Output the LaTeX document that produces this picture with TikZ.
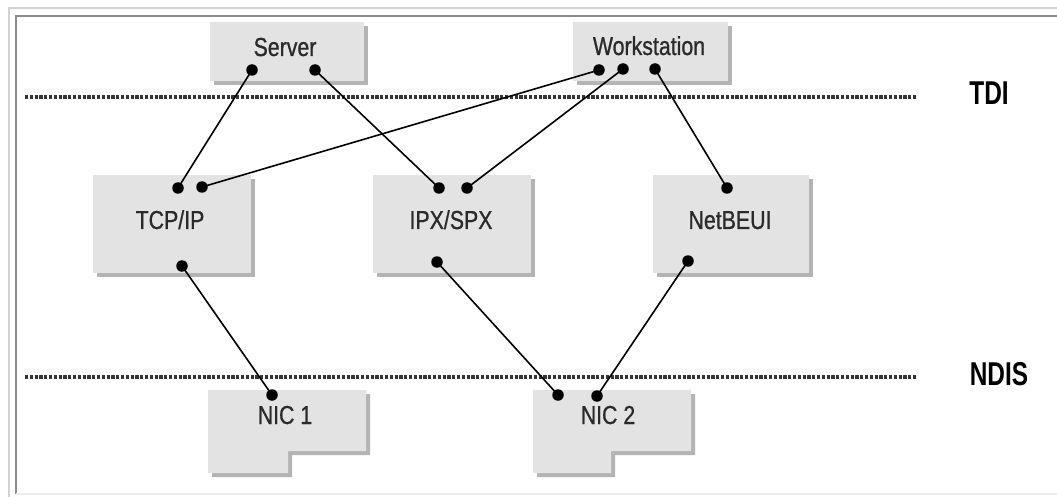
\documentclass[tikz,border=0pt]{standalone}
\usepackage{fontspec}
\setmainfont{Liberation Sans}[FakeStretch=0.82,FakeBold=0.8]
\newfontfamily\layerfont{Liberation Sans}[FakeStretch=0.74]
\definecolor{boxface}{HTML}{E3E3E3}
\definecolor{boxshade}{HTML}{B4B4B4}
\definecolor{textgray}{HTML}{2A2A2A}
\definecolor{rulegray}{HTML}{333333}
\definecolor{frameout}{HTML}{D2D2D2}
\definecolor{framein}{HTML}{8C8C88}
\begin{document}
\begin{tikzpicture}[x=1pt,y=-1pt,
  dot/.style={circle,fill=black,inner sep=0pt,minimum size=11.5pt},
  wire/.style={black,line width=1.6pt},
  layerline/.style={rulegray,line width=3.4pt,dash pattern=on 3.2pt off 1.6pt},
  boxtext/.style={anchor=base,text=textgray,font=\fontsize{26}{30}\selectfont},
  layertext/.style={anchor=base,text=black,font=\layerfont\bfseries\fontsize{33}{36}\selectfont},
  face/.style={fill=boxface,draw=none},
  shade/.style={fill=boxshade,draw=none}]
\useasboundingbox (0,0) rectangle (1057,497);
\fill[white] (0,0) rectangle (1057,497);

% page frame
\draw[frameout,line width=2pt] (8.5,497) -- (8.5,8.5) -- (1057,8.5);
\draw[framein,line width=2pt] (15.5,494) -- (15.5,16) -- (1057,16);
\draw[black!7,line width=2pt] (16,494) -- (1057,494);

% rectangular boxes: shadow then face
\foreach \xa/\ya/\xb/\yb in {210/22/364/81, 573/22/728/81,
    93/175/251/273, 373/175/531/273, 653/175/809/273} {
  \fill[shade] (\xa+4,\ya+4) rectangle (\xb+4,\yb+4);
  \fill[face] (\xa,\ya) rectangle (\xb,\yb);
}

% network adapter tabs
\foreach \xa/\xm/\xb in {208/288/366, 533/611/691} {
  \fill[shade] (\xa+4,394) -- (\xb+4,394) -- (\xb+4,455) -- (\xm+4,455)
               -- (\xm+4,477) -- (\xa+4,477) -- cycle;
  \fill[face] (\xa,390) -- (\xb,390) -- (\xb,451) -- (\xm,451)
              -- (\xm,473) -- (\xa,473) -- cycle;
}

% labels
\node[boxtext] (server) at (285,56) {Server};
\node[boxtext] (workstation) at (649,55) {Workstation};
\node[boxtext] (tcpip) at (170,229) {TCP/IP};
\node[boxtext] (ipxspx) at (451,229) {IPX/SPX};
\node[boxtext] (netbeui) at (730,229) {NetBEUI};
\node[boxtext] (nic1) at (285,424) {NIC 1};
\node[boxtext] (nic2) at (608,424) {NIC 2};
\node[layertext] (tdi) at (989,105) {TDI};
\node[layertext] (ndis) at (999,385) {NDIS};

% layer boundaries
\coordinate (tdiL) at (25,97);
\coordinate (tdiR) at (917,97);
\coordinate (ndisL) at (25,377);
\coordinate (ndisR) at (917,377);
\draw[layerline] (tdiL) -- (tdiR);
\draw[layerline] (ndisL) -- (ndisR);

% binding points
\node[dot] (s1) at (252,70) {};
\node[dot] (s2) at (315,70) {};
\node[dot] (w1) at (599,70) {};
\node[dot] (w2) at (623,69) {};
\node[dot] (w3) at (655,69) {};
\node[dot] (t1) at (178,188) {};
\node[dot] (t2) at (202,187) {};
\node[dot] (t3) at (182,266) {};
\node[dot] (i1) at (439,188) {};
\node[dot] (i2) at (467,188) {};
\node[dot] (i3) at (437,262) {};
\node[dot] (n1) at (727,188) {};
\node[dot] (n2) at (688,261) {};
\node[dot] (c1) at (272,395) {};
\node[dot] (d1) at (558,395) {};
\node[dot] (d2) at (597,396) {};

% bindings
\draw[wire] (s1.center) -- (t1.center);
\draw[wire] (s2.center) -- (i1.center);
\draw[wire] (w1.center) -- (t2.center);
\draw[wire] (w2.center) -- (i2.center);
\draw[wire] (w3.center) -- (n1.center);
\draw[wire] (t3.center) -- (c1.center);
\draw[wire] (i3.center) -- (d1.center);
\draw[wire] (n2.center) -- (d2.center);
\end{tikzpicture}
\end{document}
